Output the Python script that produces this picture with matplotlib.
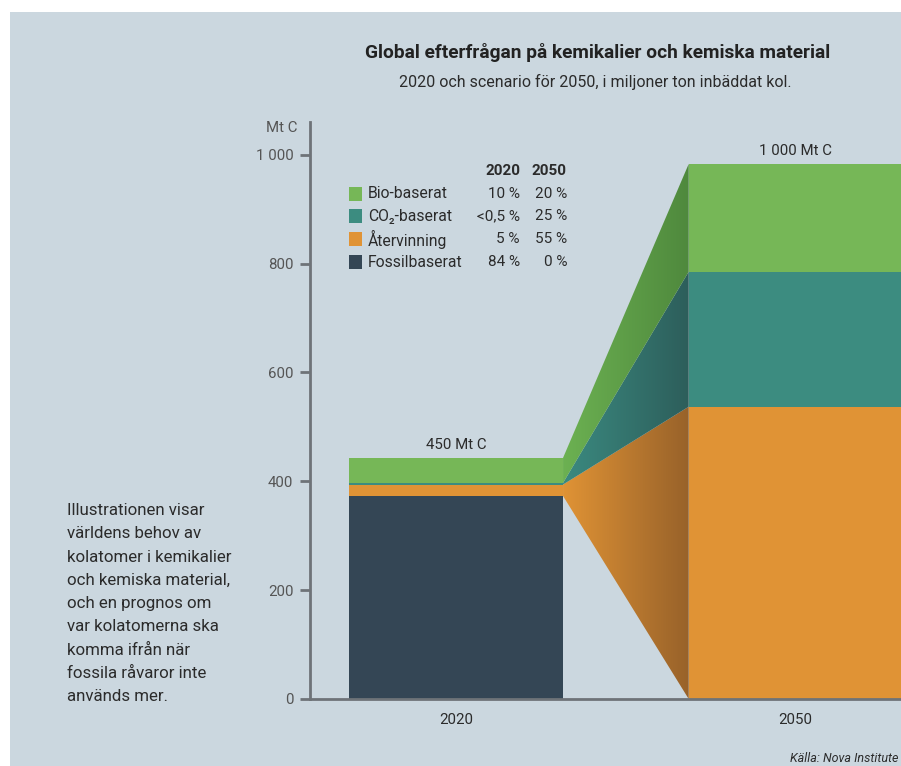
"""
Global efterfrågan på kemikalier -> stacked bars 2020/2050 with flows
"""

#%% Imports
import numpy as np
import matplotlib
matplotlib.use('Agg')
import matplotlib.pyplot as plt
from matplotlib.patches import Polygon, Rectangle
from matplotlib.colors import LinearSegmentedColormap

plt.rcParams['font.family'] = ['Roboto', 'DejaVu Sans']

#%% Data (Mt C)
years = ['2020', '2050']
categories = ['Fossilbaserat', 'Återvinning', 'CO₂-baserat', 'Bio-baserat']   # bottom -> top
values_2020 = [373, 21, 3, 46]
values_2050 = [0, 537, 248, 198]
share_2020 = ['84 %', '5 %', '<0,5 %', '10 %']
share_2050 = ['0 %', '55 %', '25 %', '20 %']
totals = ['450 Mt C', '1 000 Mt C']
yticks = [0, 200, 400, 600, 800, 1000]
ytick_labels = ['0', '200', '400', '600', '800', '1 000']

#%% Styles
bg = '#cbd7df'
colors = ['#344655', '#e09335', '#3c8c80', '#76b757']
flow_colors = [None, ('#e09335', '#98622a'), ('#3b8a80', '#2d5e5b'), ('#6cb152', '#4f893d')]
axis_col = '#6e7378'
text_col = '#2b2b2b'

fig = plt.figure(figsize=(9.01, 7.66), dpi=100, facecolor='white')
fig.patches.append(Rectangle((10 / 901, 0), 1, 1 - 12 / 766, transform=fig.transFigure,
                             facecolor=bg, edgecolor='none', zorder=-10))

W, H = 901, 766
ax = fig.add_axes([310 / W, 1 - 699 / H, 1 - 310 / W, (699 - 122) / H])
ax.set_facecolor('none')

x = np.array([0, 1])
bar_w = 0.63
xlim = (-0.43, 1.31)
ylim = (0, 1060)

# %% Bars
bottoms = np.zeros(2)
for cat, v20, v50, col in zip(categories, values_2020, values_2050, colors):
    ax.bar(x, [v20, v50], bar_w, bottom=bottoms, color=col, edgecolor='none', zorder=3)
    bottoms += [v20, v50]

# %% Flows with shaded gradient
lo20 = np.cumsum([0] + values_2020[:-1])
lo50 = np.cumsum([0] + values_2050[:-1])
x0 = x[0] + bar_w / 2
x1 = x[1] - bar_w / 2
for i in range(1, len(categories)):
    verts = [(x0, lo20[i]), (x1, lo50[i]), (x1, lo50[i] + values_2050[i]), (x0, lo20[i] + values_2020[i])]
    poly = Polygon(verts, closed=True, facecolor='none', edgecolor='none')
    ax.add_patch(poly)
    cmap = LinearSegmentedColormap.from_list('f%d' % i, flow_colors[i])
    grad = np.linspace(0, 1, 256).reshape(1, -1)
    im = ax.imshow(grad, extent=[x0, x1, 0, 1000], aspect='auto', cmap=cmap, zorder=2,
                   interpolation='bilinear')
    im.set_clip_path(poly)

ax.set_xlim(*xlim)
ax.set_ylim(*ylim)

# %% Axes styling
for s in ['top', 'right']:
    ax.spines[s].set_visible(False)
for s in ['left', 'bottom']:
    ax.spines[s].set_color(axis_col)
    ax.spines[s].set_linewidth(2)
ax.spines['bottom'].set_zorder(4)
ax.set_yticks(yticks, ytick_labels)
ax.tick_params(axis='y', length=7, width=2, color=axis_col, labelcolor='#555555', labelsize=10.8, pad=5)
ax.set_xticks(x, years)
ax.tick_params(axis='x', length=0, labelcolor=text_col, labelsize=10.8, pad=10)
ax.text(-13 / 591, 1 - 6 / 577, 'Mt C', transform=ax.transAxes, ha='right', va='center',
        fontsize=10.8, color='#555555')

for xi, lab, tot in zip(x, totals, bottoms):
    ax.text(xi, tot + 10, lab, ha='center', va='bottom', fontsize=10.8, color=text_col)

# %% Titles and notes
fig.text(598 / W, 1 - 52 / H, 'Global efterfrågan på kemikalier och kemiska material',
         ha='center', va='center', fontsize=13.8, fontweight='bold', color='#222222')
fig.text(595 / W, 1 - 82 / H, '2020 och scenario för 2050, i miljoner ton inbäddat kol.',
         ha='center', va='center', fontsize=11.5, color=text_col)
note = ('Illustrationen visar\nvärldens behov av\nkolatomer i kemikalier\noch kemiska material,\n'
        'och en prognos om\nvar kolatomerna ska\nkomma ifrån när\nfossila råvaror inte\nanvänds mer.')
fig.text(67 / W, 1 - 503 / H, note, ha='left', va='top', fontsize=12.2, color=text_col, linespacing=1.69)
fig.text(790 / W, 1 - 752 / H, 'Källa: Nova Institute', ha='left', va='top', fontsize=9,
         style='italic', color=text_col)

# %% Legend table
rows_y = [262, 239, 216, 194]   # pixel rows, bottom category first
fig.text(520 / W, 1 - 171 / H, years[0], ha='right', va='center', fontsize=11, fontweight='bold', color=text_col)
fig.text(567 / W, 1 - 171 / H, years[1], ha='right', va='center', fontsize=11, fontweight='bold', color=text_col)
for cat, col, s20, s50, ry in zip(categories, colors, share_2020, share_2050, rows_y):
    fig.patches.append(Rectangle((349 / W, 1 - (ry + 7) / H), 13 / W, 14 / H, transform=fig.transFigure,
                                 facecolor=col, edgecolor='none'))
    fig.text(368 / W, 1 - ry / H, cat, ha='left', va='center', fontsize=11.3, color=text_col)
    fig.text(520 / W, 1 - ry / H, s20, ha='right', va='center', fontsize=11, color=text_col)
    fig.text(567 / W, 1 - ry / H, s50, ha='right', va='center', fontsize=11, color=text_col)

fig.savefig('out.png', dpi=100, facecolor=fig.get_facecolor())
